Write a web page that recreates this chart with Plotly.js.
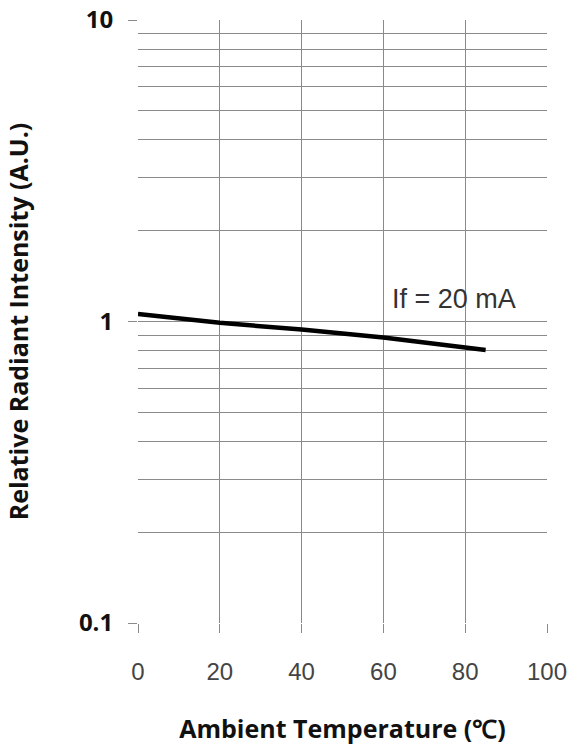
<!DOCTYPE html>
<html>
<head>
<meta charset="utf-8">
<script src="https://cdn.plot.ly/plotly-3.0.1.min.js"></script>
<style>html,body{margin:0;padding:0;background:#fff;}#chart{width:570px;height:745px;}</style>
</head>
<body>
<div id="chart"></div>
<script>
const temperature = [0, 20, 40, 60, 80, 85];
const intensity = [1.06, 0.99, 0.94, 0.885, 0.82, 0.805];
const xTicks = [0, 20, 40, 60, 80, 100];
const yTickVals = [0.1, 1, 10];
const yTickText = ['0.1', '1', '10'];
const yMinorVals = [0.2, 0.3, 0.4, 0.5, 0.6, 0.7, 0.8, 0.9, 2, 3, 4, 5, 6, 7, 8, 9];
const labelText = 'If = 20 mA';

const grid = '#8a8a8a';
const trace = {
  x: temperature, y: intensity, type: 'scatter', mode: 'lines',
  line: {color: '#000', width: 4.5}, hoverinfo: 'skip'
};
const layout = {
  width: 570, height: 745,
  margin: {l: 138, r: 23, t: 20, b: 122},
  paper_bgcolor: '#fff', plot_bgcolor: '#fff',
  showlegend: false,
  xaxis: {
    range: [0, 100], tickvals: xTicks, ticktext: xTicks.map(String),
    showgrid: true, gridcolor: grid, gridwidth: 1, zeroline: false,
    ticks: 'outside', ticklen: 9, tickcolor: grid, tickwidth: 1,
    ticklabelstandoff: 18,
    showline: false,
    tickfont: {family: 'Liberation Sans, Arial, sans-serif', size: 24, color: '#444'},
    title: {text: 'Ambient Temperature (℃)', standoff: 36,
      font: {family: 'Open Sans, sans-serif', size: 25, color: '#111', weight: 'bold'}}
  },
  yaxis: {
    type: 'log', range: [-1, 1], tickvals: yTickVals, ticktext: yTickText,
    showgrid: true, gridcolor: grid, gridwidth: 1, zeroline: false,
    ticks: 'outside', ticklen: 9, tickcolor: grid, tickwidth: 1,
    ticklabelstandoff: 10,
    showline: false,
    minor: {tickmode: 'array', tickvals: yMinorVals, showgrid: true, gridcolor: grid, gridwidth: 1, ticks: ''},
    tickfont: {family: 'Open Sans, sans-serif', size: 24, color: '#111', weight: 'bold'},
    title: {text: 'Relative Radiant Intensity (A.U.)', standoff: 43,
      font: {family: 'Open Sans, sans-serif', size: 25, color: '#111', weight: 'bold'}}
  },
  annotations: [{
    x: 77.3, y: 0.076, xref: 'x', yref: 'y', text: labelText, showarrow: false,
    font: {family: 'Liberation Sans, Arial, sans-serif', size: 27, color: '#333'}
  }]
};
Plotly.newPlot('chart', [trace], layout, {staticPlot: true, displayModeBar: false});
</script>
</body>
</html>
